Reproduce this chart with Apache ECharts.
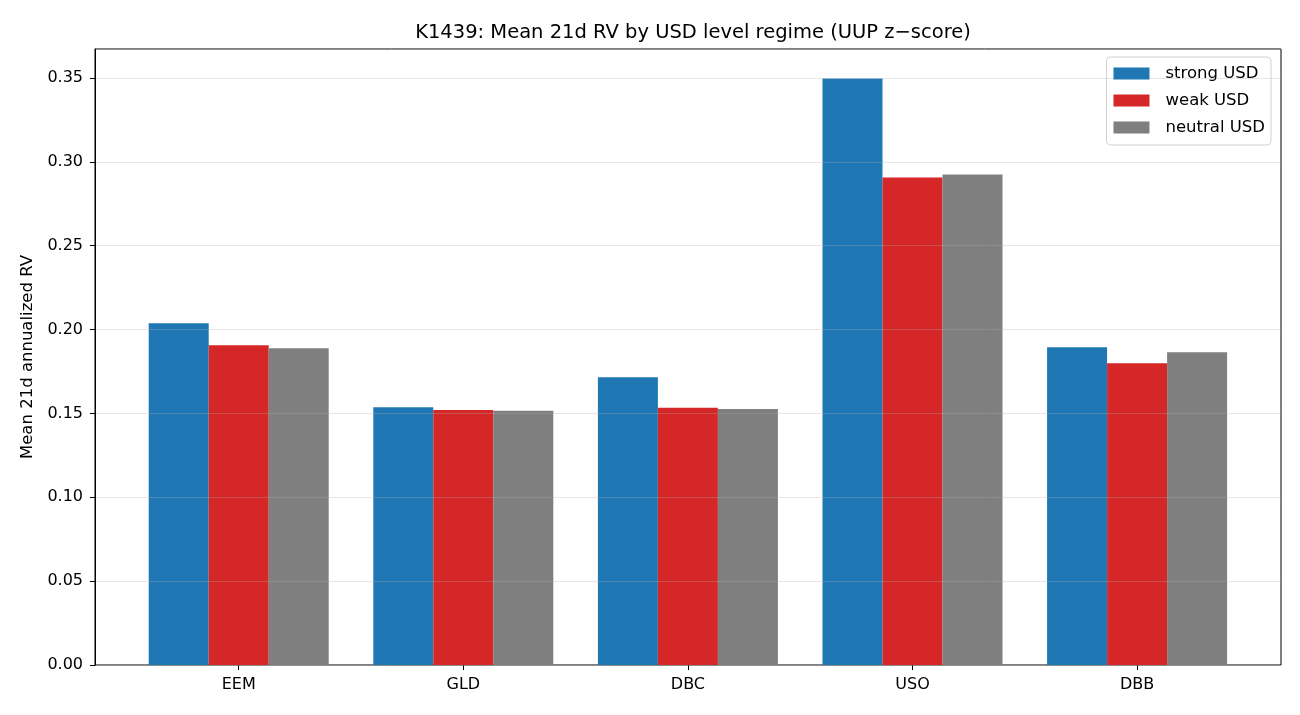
<!DOCTYPE html>
<html>
<head>
<meta charset="utf-8">
<script src="https://cdn.jsdelivr.net/npm/echarts@6/dist/echarts.min.js"></script>
<style>
  html, body { margin: 0; padding: 0; background: #fff; }
  #chart { width: 1300px; height: 715px; }
</style>
</head>
<body>
<div id="chart"></div>
<script>
const tickers = ['EEM', 'GLD', 'DBC', 'USO', 'DBB']
const strongUsd = [0.2038, 0.1537, 0.1716, 0.3497, 0.1895]
const weakUsd = [0.1907, 0.1520, 0.1534, 0.2907, 0.1799]
const neutralUsd = [0.1889, 0.1516, 0.1526, 0.2924, 0.1865]
const yMax = 0.3673

const font = 'DejaVu Sans, sans-serif'

// grid 0 = frame + y axis, grid 1 = bars (narrower, matplotlib-like margins)
const option = {
  animation: false,
  title: {
    text: 'K1439: Mean 21d RV by USD level regime (UUP z\u2212score)',
    left: 688,
    textAlign: 'center',
    top: 18,
    textStyle: { fontFamily: font, fontSize: 19.5, fontWeight: 'normal', color: '#000' }
  },
  legend: {
    orient: 'vertical',
    right: 29,
    top: 57,
    itemWidth: 36,
    itemHeight: 12,
    itemGap: 10,
    padding: [8, 6, 9, 7],
    borderColor: '#d0d0d0',
    borderWidth: 1,
    borderRadius: 4,
    icon: 'rect',
    textStyle: { fontFamily: font, fontSize: 16.5, color: '#000', padding: [0, 0, 0, 11] },
    data: ['strong USD', 'weak USD', 'neutral USD']
  },
  grid: [
    { left: 95, right: 19, top: 49, bottom: 50, show: true, borderColor: '#000', borderWidth: 1, backgroundColor: 'transparent' },
    { left: 126.4, right: 50.6, top: 49, bottom: 50 }
  ],
  xAxis: [
    { type: 'value', gridIndex: 0, min: 0, max: 1, show: false },
    {
      type: 'category',
      gridIndex: 1,
      data: tickers,
      axisLine: { show: false },
      axisTick: { show: true, alignWithLabel: true, length: 5, lineStyle: { color: '#000' } },
      axisLabel: { fontFamily: font, fontSize: 16, color: '#000', margin: 12 }
    }
  ],
  yAxis: [
    {
      type: 'value',
      gridIndex: 0,
      min: 0,
      max: yMax,
      interval: 0.05,
      z: 3,
      name: 'Mean 21d annualized RV',
      nameLocation: 'middle',
      nameGap: 58,
      nameTextStyle: { fontFamily: font, fontSize: 16.5, color: '#000' },
      axisLine: { show: true, lineStyle: { color: '#000' } },
      axisTick: { show: true, length: 5, lineStyle: { color: '#000' } },
      axisLabel: {
        fontFamily: font, fontSize: 16, color: '#000', margin: 12,
        showMaxLabel: false,
        formatter: v => v.toFixed(2)
      },
      splitLine: { show: true, lineStyle: { color: 'rgba(176,176,176,0.3)', width: 1 } }
    },
    { type: 'value', gridIndex: 1, min: 0, max: yMax, show: false, splitLine: { show: false } }
  ],
  series: [
    { name: 'strong USD', type: 'bar', xAxisIndex: 1, yAxisIndex: 1, data: strongUsd, barWidth: 60, barGap: '0%', itemStyle: { color: '#1f77b4' } },
    { name: 'weak USD', type: 'bar', xAxisIndex: 1, yAxisIndex: 1, data: weakUsd, barWidth: 60, barGap: '0%', itemStyle: { color: '#d62728' } },
    { name: 'neutral USD', type: 'bar', xAxisIndex: 1, yAxisIndex: 1, data: neutralUsd, barWidth: 60, barGap: '0%', itemStyle: { color: '#7f7f7f' } }
  ]
}

const chart = echarts.init(document.getElementById('chart'))
chart.setOption(option)
</script>
</body>
</html>
